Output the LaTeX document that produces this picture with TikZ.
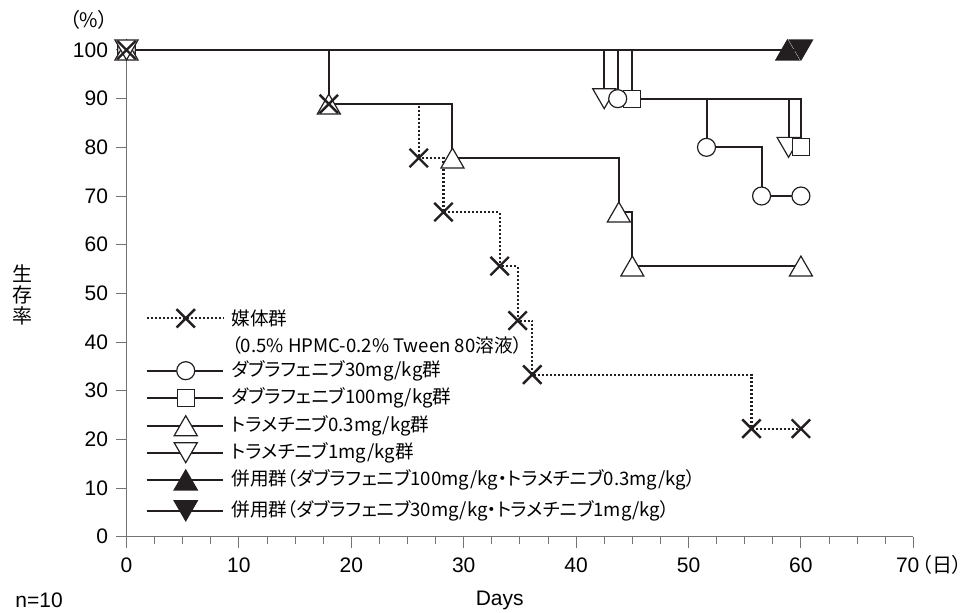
\documentclass[tikz,border=0pt]{standalone}
\usepackage{fontspec}
\setmainfont{Liberation Sans}
\newfontfamily\jpfont{Noto Sans CJK JP}
\newfontfamily\jppalt[RawFeature=+palt]{Noto Sans CJK JP}
\usepackage{tikz}
\usetikzlibrary{positioning,shapes.geometric,shapes.misc}
\definecolor{ink}{HTML}{231F20}
\tikzset{
    km/.style = {
        draw=ink,
        line width=1pt
    },
    vehicle/.style = {
        draw=ink,
        line width=1.1pt,
        dash pattern=on 1pt off 1pt
    },
    axis/.style = {
        draw=black!55,
        line width=0.5pt
    },
    cross/.style = {
        draw=ink,
        shape=cross out,
        minimum size=8pt,
        inner sep=0pt,
        line width=1.2pt
    },
    circ/.style = {
        draw=ink,
        fill=white,
        shape=circle,
        minimum size=9pt,
        inner sep=0pt,
        line width=0.6pt
    },
    sqr/.style = {
        draw=ink,
        fill=white,
        shape=rectangle,
        minimum size=8.5pt,
        inner sep=0pt,
        line width=0.6pt
    },
    tri/.style = {
        draw=ink,
        fill=white,
        shape=regular polygon,
        regular polygon sides=3,
        minimum size=13.3pt,
        inner sep=0pt,
        line width=0.6pt,
        yshift=-1.66pt
    },
    itri/.style = {
        draw=ink,
        fill=white,
        shape=regular polygon,
        regular polygon sides=3,
        shape border rotate=180,
        minimum size=13.3pt,
        inner sep=0pt,
        line width=0.6pt,
        yshift=1.66pt
    },
    legtext/.style = {
        anchor=west,
        inner sep=4pt,
        font=\jppalt\fontsize{9.3pt}{11pt}\selectfont
    },
    ticklabel/.style = {
        font=\fontsize{10.5pt}{12pt}\selectfont
    },
    jplabel/.style = {
        font=\jppalt\fontsize{10pt}{12pt}\selectfont
    },
}

\begin{document}
\begin{tikzpicture}[x=5.62pt, y=2.4335pt]
    \useasboundingbox (-11.254,-15.47) rectangle (75.22,110.27);

    % axes
    \coordinate (o) at (0,0);
    \coordinate (xend) at (70,0);
    \coordinate (ytop) at (0,100);
    \path[axis] (ytop) -- (o) -- (xend);
    \foreach \d in {2.5,5,...,67.5} \path[axis] (\d,0) -- ++(0pt,-3.5pt);
    \foreach \d in {0,10,...,70} \path[axis] (\d,0) -- ++(0pt,-5.5pt);
    \foreach \p in {0,10,...,100} \path[axis] (0,\p) -- ++(-5pt,0pt) node[ticklabel, anchor=east, inner sep=4pt] (yl\p) {\p};
    \foreach \d in {0,10,...,60} \node[ticklabel] (xl\d) at (\d,-5.81) {\d};
    \node[ticklabel, inner sep=0pt] (xl70) at (69.5,-5.81) {70};
    \node[jplabel, right=1pt of xl70, inner sep=0pt] (unit) {（日）};
    \node[jplabel] (pct) at (-3.34,106.2) {（\%）};
    \node[jplabel, font=\jpfont\fontsize{10pt}{10.5pt}\selectfont, align=center] (ylabel) at (-9.21,49.6) {生\\存\\率};
    \node[ticklabel, anchor=west, inner sep=0pt] (nlabel) at (-9.92,-13) {n=10};
    \node[ticklabel] (xlabel) at (33.2,-13) {Days};

    % vehicle
    \coordinate (v0) at (0,100);
    \coordinate (v1) at (18,88.9);
    \coordinate (v2) at (26,77.8);
    \coordinate (v3) at (28.2,66.7);
    \coordinate (v4) at (33.2,55.6);
    \coordinate (v5) at (34.8,44.4);
    \coordinate (v6) at (36.1,33.3);
    \coordinate (v7) at (55.6,22.2);
    \coordinate (v8) at (60,22.2);
    % trametinib 0.3
    \coordinate (t0) at (0,100);
    \coordinate (t1) at (18,88.9);
    \coordinate (t2) at (29,77.8);
    \coordinate (t3) at (43.8,66.7);
    \coordinate (t4) at (45,55.6);
    \coordinate (t5) at (60,55.6);
    % dabrafenib 30
    \coordinate (c0) at (0,100);
    \coordinate (c1) at (43.7,90);
    \coordinate (c2) at (51.6,80);
    \coordinate (c3) at (56.5,70);
    \coordinate (c4) at (60,70);
    % dabrafenib 100
    \coordinate (s0) at (0,100);
    \coordinate (s1) at (45,90);
    \coordinate (s2) at (60,80);
    % trametinib 1
    \coordinate (d0) at (0,100);
    \coordinate (d1) at (42.5,90);
    \coordinate (d2) at (58.9,80);
    % combinations
    \coordinate (f0) at (0,100);
    \coordinate (f1) at (58.8,100);
    \coordinate (g0) at (0,100);
    \coordinate (g1) at (60,100);

    \path[vehicle] (v0) -| (v1) -| (v2) -| (v3) -| (v4) -| (v5) -| (v6) -| (v7) -- (v8);
    \path[km] (t0) -| (t1) -| (t2) -| (t3) -| (t4) -- (t5);
    \path[km] (c0) -| (c1) -| (c2) -| (c3) -- (c4);
    \path[km] (s0) -| (s1) -| (s2);
    \path[km] (d0) -| (d1) -| (d2);
    \path[km] (f0) -- (f1);
    \path[km] (g0) -- (g1);

    \node[sqr] (ms0) at (s0) {};
    \node[circ] (mc0) at (c0) {};
    \node[tri] (mt0) at (t0) {};
    \node[itri] (md0) at (d0) {};
    \node[cross] (mv0) at (v0) {};
    \node[tri] (mt1) at (t1) {};
    \node[cross] (mv1) at (v1) {};
    \node[cross] (mv2) at (v2) {};
    \node[cross] (mv3) at (v3) {};
    \node[cross] (mv4) at (v4) {};
    \node[cross] (mv5) at (v5) {};
    \node[cross] (mv6) at (v6) {};
    \node[cross] (mv7) at (v7) {};
    \node[cross] (mv8) at (v8) {};
    \node[tri] (mt2) at (t2) {};
    \node[tri] (mt3) at (t3) {};
    \node[tri] (mt4) at (t4) {};
    \node[tri] (mt5) at (t5) {};
    \node[itri] (md1) at (d1) {};
    \node[sqr] (ms1) at (s1) {};
    \node[circ] (mc1) at (c1) {};
    \node[circ] (mc2) at (c2) {};
    \node[circ] (mc3) at (c3) {};
    \node[circ] (mc4) at (c4) {};
    \node[itri] (md2) at (d2) {};
    \node[sqr] (ms2) at (s2) {};
    \node[tri, fill=ink] (mf1) at (f1) {};
    \node[itri, fill=ink] (mg1) at (g1) {};

    % legend
    \coordinate (lv) at (1.8,44.87);
    \coordinate (lc) at (1.8,34.11);
    \coordinate (ls) at (1.8,28.44);
    \coordinate (lt) at (1.8,22.81);
    \coordinate (ld) at (1.8,17.26);
    \coordinate (lf) at (1.8,11.65);
    \coordinate (lg) at (1.8,5.34);
    \node[legtext] (lvt) at (8.61,44.87) {媒体群};
    \node[legtext] (lvt2) at (8.61,39.39) {（0.5\% HPMC-0.2\% Tween 80溶液）};
    \node[legtext] (lct) at (8.61,34.11) {ダブラフェニブ30mg/kg群};
    \node[legtext] (lst) at (8.61,28.44) {ダブラフェニブ100mg/kg群};
    \node[legtext] (ltt) at (8.61,22.81) {トラメチニブ0.3mg/kg群};
    \node[legtext] (ldt) at (8.61,17.26) {トラメチニブ1mg/kg群};
    \node[legtext] (lft) at (8.61,11.65) {併用群（ダブラフェニブ100mg/kg・トラメチニブ0.3mg/kg）};
    \node[legtext] (lgt) at (8.61,5.34) {併用群（ダブラフェニブ30mg/kg・トラメチニブ1mg/kg）};
    \path[vehicle] (lv) -- (lvt);
    \path[km] (lc) -- (lct);
    \path[km] (ls) -- (lst);
    \path[km] (lt) -- (ltt);
    \path[km] (ld) -- (ldt);
    \path[km] (lf) -- (lft);
    \path[km] (lg) -- (lgt);
    \node[cross] (lvm) at (5.27,44.87) {};
    \node[circ] (lcm) at (5.27,34.11) {};
    \node[sqr] (lsm) at (5.27,28.44) {};
    \node[tri] (ltm) at (5.27,22.81) {};
    \node[itri] (ldm) at (5.27,17.26) {};
    \node[tri, fill=ink] (lfm) at (5.27,11.65) {};
    \node[itri, fill=ink] (lgm) at (5.27,5.34) {};
\end{tikzpicture}
\end{document}
